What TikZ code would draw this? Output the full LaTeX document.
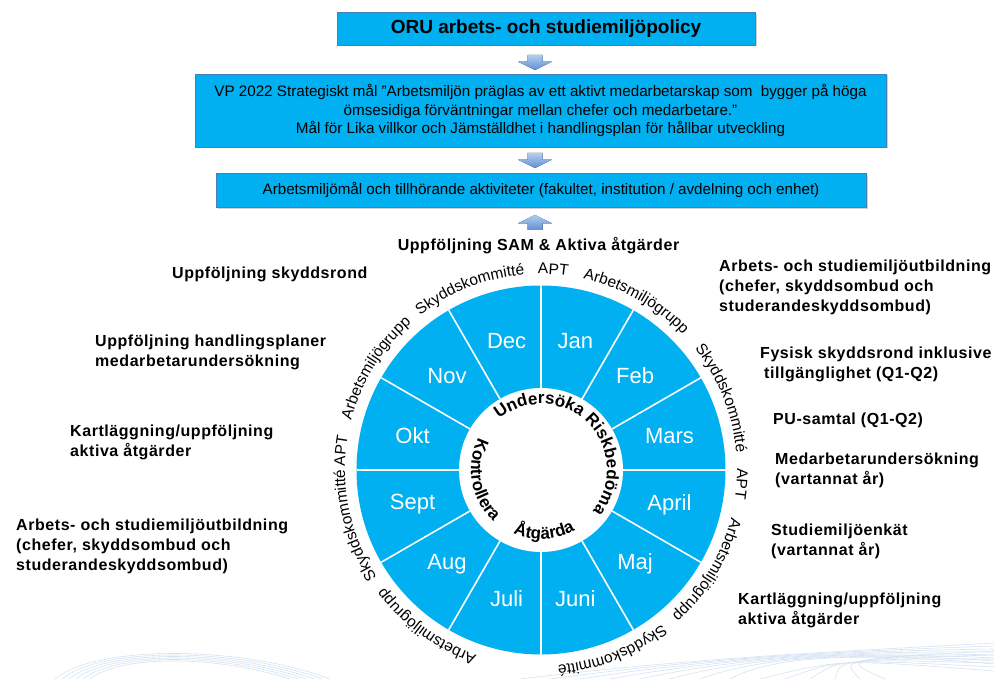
\documentclass[tikz,border=0pt]{standalone}
\usepackage{fontspec}
\setmainfont{Liberation Sans}
\newfontfamily\lblfont[LetterSpace=3.5]{Liberation Sans}
\usetikzlibrary{decorations.text,shadows,calc}
\definecolor{oru}{HTML}{00B0F0}
\definecolor{boxedge}{HTML}{4A7EBB}
\definecolor{arrowtop}{HTML}{B3CDEE}
\definecolor{arrowbot}{HTML}{5E90D4}
\definecolor{faintline}{HTML}{D5E3F3}
\newcommand\ringtext[3]{\path[decorate,decoration={text along path,text align=center,text={|\fontsize{15.5}{18}\selectfont|#3}}] ($(C)+({#1+45}:#2)$) arc[start angle={#1+45},end angle={#1-45},radius=#2];}
\newcommand\hubtext[4]{\path[decorate,decoration={text along path,text align=center,text={|\bfseries\fontsize{17}{20}\selectfont|#4}}] ($(C)+(#1:#3)$) arc[start angle=#1,end angle=#2,radius=#3];}
\begin{document}
\begin{tikzpicture}[x=1pt,y=1pt,
  topbox/.style={draw=boxedge,line width=0.7pt,fill=oru,inner sep=0pt,align=center,
    drop shadow={shadow xshift=1.5pt,shadow yshift=-1.5pt,opacity=0.3,fill=black!60}},
  blockarrow/.pic={\fill[top color=arrowtop,bottom color=arrowbot] (-7.5,7.5) -- (7.5,7.5) -- (7.5,0.8) -- (17,0.8) -- (0,-7.5) -- (-17,0.8) -- (-7.5,0.8) -- cycle;},
  month/.style={text=white,font=\fontsize{22}{26}\selectfont,inner sep=0pt},
  side/.style={font=\lblfont\bfseries\fontsize{16}{20}\selectfont,align=left,anchor=west,inner sep=0pt},
  wheelpart/.style={circle,inner sep=0pt,outer sep=0pt,draw=none}]
\useasboundingbox (0,0) rectangle (994,679);
\fill[white] (0,0) rectangle (994,679);

% faint background lines
\begin{scope}[draw=faintline,line width=0.6pt]
  \foreach \i in {0,...,5} \draw (55+7*\i,0) .. controls (95+5*\i,{34-2*\i}) and (240-5*\i,{34-2*\i}) .. (330-8*\i,0);
  \foreach \i in {0,...,7} \draw (520+30*\i,0) .. controls (700+10*\i,22) and (850,28) .. (994,{36-3*\i});
  \foreach \i in {0,...,5} \draw (760+25*\i,0) .. controls (840,20) .. (994,{8+4*\i});
\end{scope}

% top boxes
\node[topbox,minimum width=418pt,minimum height=32.3pt,font=\fontsize{19}{22}\selectfont\bfseries] (policy) at (546,650.2) {ORU arbets- och studiemiljöpolicy};
\node[topbox,minimum width=691pt,minimum height=73pt,font=\fontsize{15.2}{18.5}\selectfont] (goal) at (540.5,568.5)
  {VP 2022 Strategiskt mål ”Arbetsmiljön präglas av ett aktivt medarbetarskap som\ \ bygger på höga\\
   ömsesidiga förväntningar mellan chefer och medarbetare.”\\
   Mål för Lika villkor och Jämställdhet i handlingsplan för hållbar utveckling};
\node[topbox,minimum width=650pt,minimum height=34pt,font=\fontsize{15.2}{18}\selectfont] (aims) at (541,488.7)
  {Arbetsmiljömål och tillhörande aktiviteter (fakultet, institution / avdelning och enhet)};

% block arrows
\coordinate (arr1) at (535,616.5);
\coordinate (arr2) at (535,518.5);
\coordinate (arr3) at (535,456.5);
\pic at (arr1) {blockarrow};
\pic at (arr2) {blockarrow};
\pic[rotate=180] at (arr3) {blockarrow};

% wheel
\node[wheelpart,fill=oru,minimum size=369pt] (wheel) at (541,209) {};
\node[wheelpart,fill=white,minimum size=164pt] (hub) at (wheel.center) {};
\coordinate (C) at (wheel.center);
\foreach \a in {0,30,...,330} \draw[white,line width=1.6pt] (hub.\a) -- (wheel.\a);

\foreach \m/\a in {Jan/75,Feb/45,Mars/15,April/-15,Maj/-45,Juni/-75,Juli/-105,Aug/-135,Sept/-165,Okt/165,Nov/135,Dec/105}
  \node[month] (m\m) at ($(C)+(\a:133)$) {\m};

% ring texts
\ringtext{86.5}{196}{APT}
\ringtext{60.6}{196}{Arbetsmiljögrupp}
\ringtext{21.7}{196}{Skyddskommitté}
\ringtext{-4}{196}{APT}
\ringtext{-31}{196}{Arbetsmiljögrupp}
\ringtext{-68.5}{196}{Skyddskommitté}
\ringtext{-126.2}{196}{Arbetsmiljögrupp}
\ringtext{196.5}{196}{Skyddskommitté}
\ringtext{174.5}{196}{APT}
\ringtext{148.4}{196}{Arbetsmiljögrupp}
\ringtext{111.4}{196}{Skyddskommitté}

% hub texts
\hubtext{135.5}{-44.5}{66}{Undersöka Riskbedöma}
\hubtext{130}{250}{70}{Kontrollera}
\hubtext{228}{318}{69}{Åtgärda}

% labels
\node[side,anchor=center] (samlbl) at (538.5,433) {Uppföljning SAM \& Aktiva åtgärder};
\node[side] (l1) at (172,405) {Uppföljning skyddsrond};
\node[side] (l2) at (95,326.3) {Uppföljning handlingsplaner\\medarbetarundersökning};
\node[side] (l3) at (70,236.8) {Kartläggning/uppföljning\\aktiva åtgärder};
\node[side] (l4) at (16,132.7) {Arbets- och studiemiljöutbildning\\(chefer, skyddsombud och\\studerandeskyddsombud)};
\node[side] (r1) at (719,392) {Arbets- och studiemiljöutbildning\\(chefer, skyddsombud och\\studerandeskyddsombud)};
\node[side] (r2) at (760,315) {Fysisk skyddsrond inklusive\\\hspace{4pt}tillgänglighet (Q1-Q2)};
\node[side] (r3) at (773,258.3) {PU-samtal (Q1-Q2)};
\node[side] (r4) at (775,208.3) {Medarbetarundersökning\\(vartannat år)};
\node[side] (r5) at (771,137.8) {Studiemiljöenkät\\(vartannat år)};
\node[side] (r6) at (738,68.3) {Kartläggning/uppföljning\\aktiva åtgärder};
\end{tikzpicture}
\end{document}
